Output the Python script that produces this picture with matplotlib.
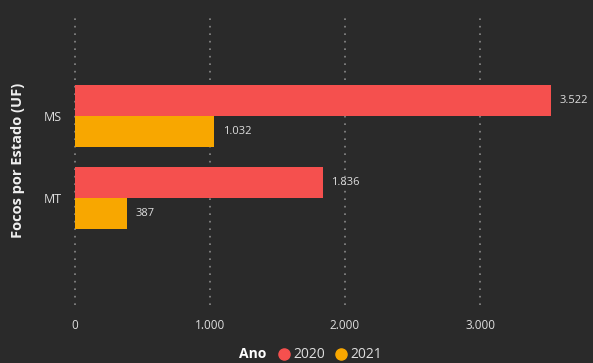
import matplotlib
matplotlib.use("Agg")
import matplotlib.pyplot as plt
import numpy as np
from matplotlib.lines import Line2D

categories = ["MS", "MT"]
years = ["2020", "2021"]
values_2020 = [3522, 1836]
values_2021 = [1032, 387]
xticks = [0, 1000, 2000, 3000]
xtick_labels = ["0", "1.000", "2.000", "3.000"]

bg = "#2a2a2a"
c2020 = "#F5504E"
c2021 = "#F8A700"
txt = "#dedede"

plt.rcParams['font.family'] = ['Open Sans', 'DejaVu Sans']

W, H = 593, 363
fig = plt.figure(figsize=(W/100, H/100), dpi=100, facecolor=bg)
x0 = 72.5
zero_px = 74.5
px_per_k = 135.2
ax = fig.add_axes([x0/W, 1-305/H, 1-x0/W, (305-15)/H], facecolor=bg)

y = np.arange(len(categories))
h = 0.378
ax.barh(y - h/2, values_2020, height=h, color=c2020, zorder=3)
ax.barh(y + h/2, values_2021, height=h, color=c2021, zorder=3)

def fmt(v):
    return f"{v:,}".replace(",", ".")

for yi, v in zip(y - h/2, values_2020):
    ax.text(v + 65, yi, fmt(v), va="center", ha="left", color=txt, fontsize=8, zorder=4, clip_on=False)
for yi, v in zip(y + h/2, values_2021):
    ax.text(v + 65, yi, fmt(v), va="center", ha="left", color=txt, fontsize=8, zorder=4, clip_on=False)

xmin = -(zero_px - x0) / px_per_k * 1000
xmax = (W - zero_px) / px_per_k * 1000
ax.set_xlim(xmin, xmax)
ax.set_ylim(1 + (305-198)/82, 0 - (116-15)/82)
ax.set_xticks(xticks)
ax.set_xticklabels(xtick_labels, color=txt, fontsize=8.5)
ax.set_yticks(y)
ax.set_yticklabels(categories, color=txt, fontsize=9)
ax.tick_params(axis="both", length=0)
ax.tick_params(axis="x", pad=10)
ax.tick_params(axis="y", pad=8)
for s in ax.spines.values():
    s.set_visible(False)
ax.grid(axis="x", color="#8a8a8a", linestyle=(0, (1, 3.5)), linewidth=1.2, zorder=1)
ax.set_ylabel("Focos por Estado (UF)", color="#f0f0f0", fontsize=10.5, fontweight="bold", labelpad=13)

# Legend
ly = 1 - 354/H
fig.text(253/W, ly, "Ano", color="#ffffff", fontsize=10, fontweight="bold", ha="center", va="center")
for xc, col, lab in [(283.5, c2020, years[0]), (340.5, c2021, years[1])]:
    fig.add_artist(Line2D([xc/W], [ly], marker="o", markersize=8, color=col, linestyle="none",
                          transform=fig.transFigure))
    fig.text((xc+9.5)/W, ly, lab, color=txt, fontsize=10, ha="left", va="center")

fig.savefig("out.png", dpi=100, facecolor=bg)
